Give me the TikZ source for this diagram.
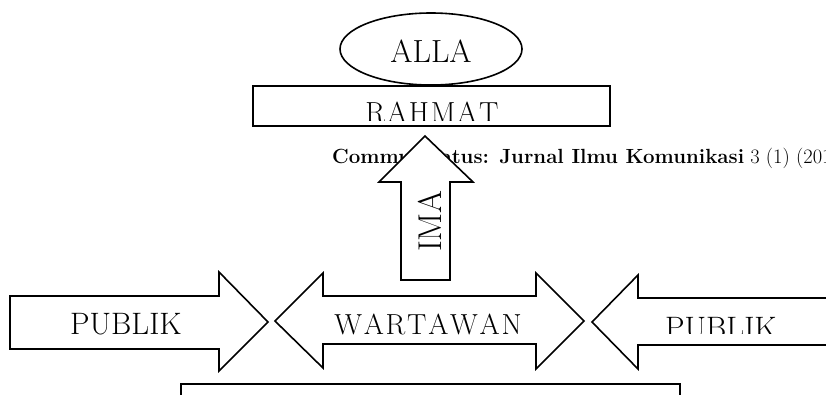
\documentclass[tikz,border=0pt]{standalone}
\usepackage{fontspec}
\newcommand\kk{\kern1.8pt}
\begin{document}
\begin{tikzpicture}[x=1pt,y=-1pt,
  shp/.style={draw=black,fill=white,line width=1.6pt,line join=miter},
  lbl/.style={inner sep=0pt,font=\fontsize{31}{33}\selectfont},
  sp/.style={inner sep=0pt,font=\fontsize{29}{31}\selectfont}]
\useasboundingbox (0,0) rectangle (826,394);
\clip (0,0) rectangle (826,394);
% header text (partly hidden by the arrow)
\node[anchor=base west,inner sep=0pt,font=\fontsize{20.5}{22}\selectfont] (hdr) at (332,163)
  {\textbf{Communicatus: Jurnal Ilmu Komunikasi} 3 (1) (201};
% ellipse
\draw[shp] (431,49) ellipse [x radius=91,y radius=36];
\node[lbl,font=\fontsize{32}{34}\selectfont] (alla) at (431,51) {ALLA};
% rahmat box
\draw[shp] (253,86) rectangle (610,126);
\begin{scope}
  \clip (253,86) rectangle (610,120);
  \node[sp] (rahmat) at (432,112) {R\kk A\kk H\kk M\kk A\kk T};
\end{scope}
% IMA arrow
\draw[shp] (401,280) -- (401,182) -- (379,182) -- (425,136) -- (473,182) -- (450,182) -- (450,280) -- cycle;
\node[lbl,rotate=90,font=\fontsize{33}{35}\selectfont] (ima) at (430,221) {IMA};
% left PUBLIK arrow
\draw[shp] (10,296) -- (219,296) -- (219,272) -- (268,322) -- (219,371) -- (219,349) -- (10,349) -- cycle;
\node[lbl] (pub1) at (126,324) {PUBLIK};
% WARTAWAN double arrow
\draw[shp] (275,321) -- (323,273) -- (323,296) -- (536,296) -- (536,273) -- (584,321)
  -- (536,369) -- (536,344) -- (323,344) -- (323,368) -- cycle;
\node[sp] (wart) at (428,324) {W\kk A\kk R\kk T\kk A\kk W\kk A\kk N};
% right PUBLIK arrow
\draw[shp] (835,298) -- (638,298) -- (638,275) -- (592,322) -- (638,369) -- (638,345) -- (835,345);
\begin{scope}
  \clip (600,300) rectangle (826,333);
  \node[lbl] (pub2) at (721,328.5) {PUBLIK};
\end{scope}
% bottom box
\draw[line width=1.6pt] (181,400) -- (181,384) -- (680,384) -- (680,400);
\end{tikzpicture}
\end{document}
